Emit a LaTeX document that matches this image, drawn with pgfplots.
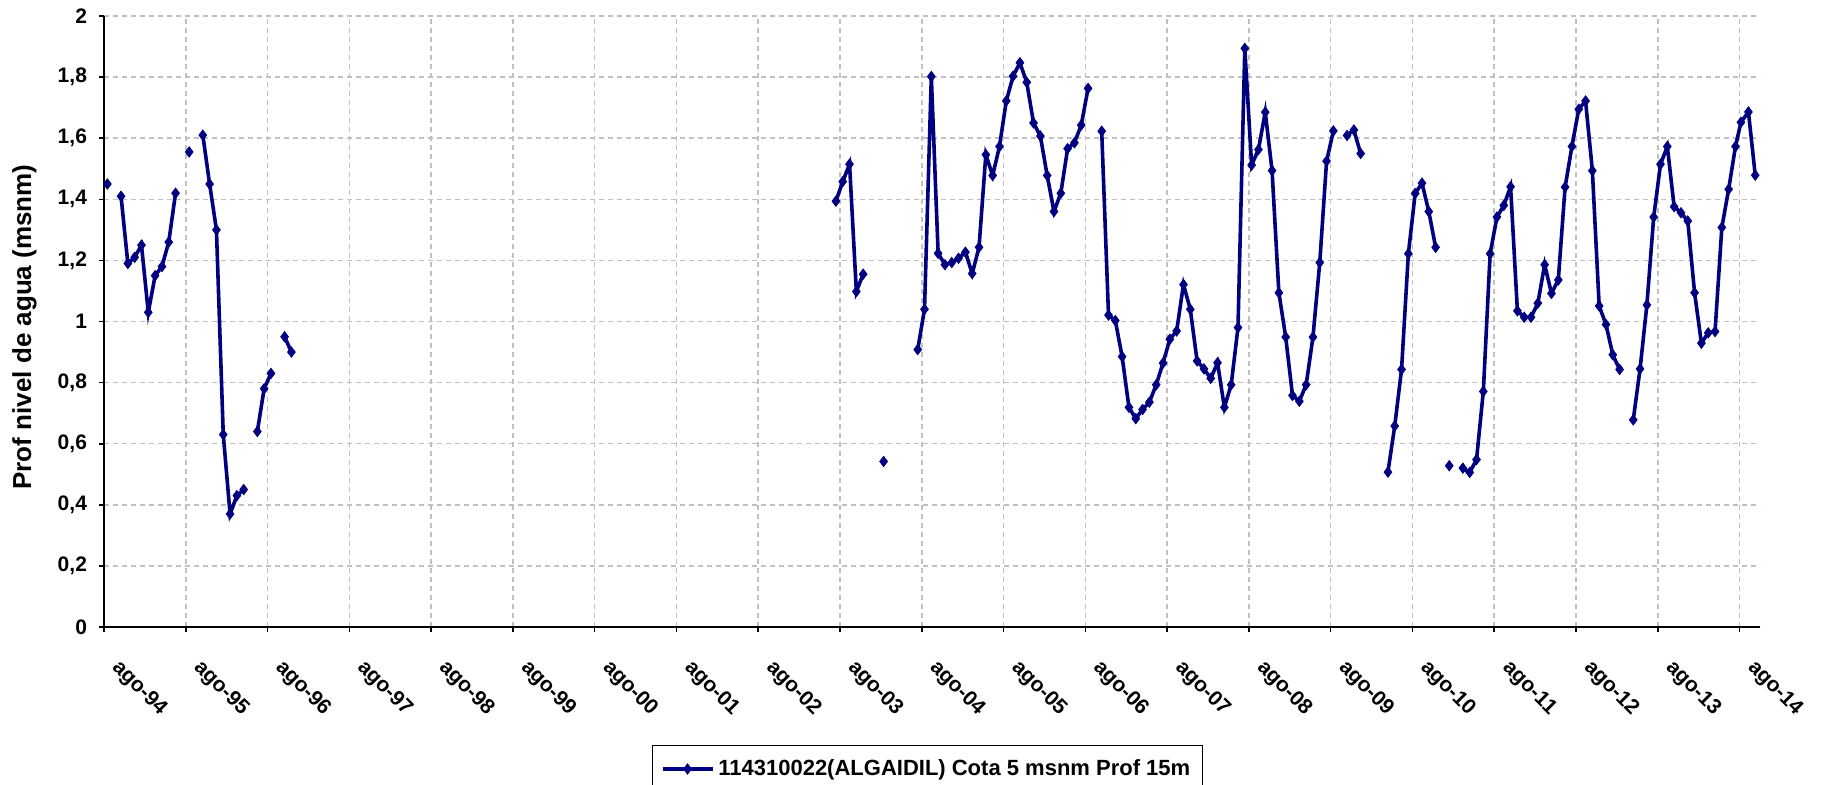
\documentclass[border=0pt]{standalone}
\usepackage{fontspec}
\setmainfont{Liberation Sans}
\usepackage{pgfplots}
\pgfplotsset{compat=1.18}
\definecolor{navy}{RGB}{0,0,128}
\definecolor{gridgray}{RGB}{192,192,192}
\begin{document}
\begin{tikzpicture}
\begin{axis}[
  scale only axis, width=828pt, height=305.5pt,
  xmin=0, xmax=243, ymin=0, ymax=2,
  axis x line*=bottom, axis y line*=left,
  axis line style={black, line width=0.8pt},
  xtick={0,12,24,36,48,60,72,84,96,108,120,132,144,156,168,180,192,204,216,228,240},
  xticklabels={ago-94,ago-95,ago-96,ago-97,ago-98,ago-99,ago-00,ago-01,ago-02,ago-03,ago-04,ago-05,ago-06,ago-07,ago-08,ago-09,ago-10,ago-11,ago-12,ago-13,ago-14},
  ytick={0,0.2,0.4,0.6,0.8,1,1.2,1.4,1.6,1.8,2},
  /pgf/number format/.cd, use comma, fixed, precision=1, assume math mode=true, /pgfplots/.cd,
  tick align=outside, major tick length=2.5pt,
  tick style={black, line width=0.8pt},
  grid=major,
  major grid style={gridgray, dash pattern=on 2.5pt off 2pt, line width=0.75pt},
  yticklabel style={font=\fontsize{10.5}{12}\selectfont\bfseries, xshift=-2.5pt},
  xticklabel style={font=\fontsize{10.5}{12}\selectfont\bfseries, xshift=9pt, yshift=-8pt, rotate=-45, anchor=north west},
  ylabel={Prof nivel de agua (msnm)},
  ylabel style={font=\fontsize{13}{15}\selectfont\bfseries, at={(axis description cs:-0.048,0.491)}, anchor=center},
  unbounded coords=jump,
  legend style={at={(0.4973,-0.193)}, anchor=north, draw=black, line width=0.6pt,
    font=\fontsize{11}{13}\selectfont\bfseries, inner xsep=4pt, inner ysep=5pt},
  legend cell align=left,
  legend image code/.code={\draw[mark repeat=2, mark phase=2, #1] plot coordinates {(0pt,0pt) (12.5pt,0pt) (25pt,0pt)};},
]
\addplot[navy, line width=1.8pt, mark=diamond*, mark size=2.5pt, mark options={solid, fill=navy, line width=0.5pt}] coordinates {
(0.5,1.45) (1.5,nan) (2.5,1.41) (3.5,1.19) (4.5,1.21) (5.5,1.25) (6.5,1.03) (7.5,1.15) (8.5,1.18) (9.5,1.26) (10.5,1.42) (11.5,nan)
(12.5,1.555) (13.5,nan) (14.5,1.61) (15.5,1.45) (16.5,1.30) (17.5,0.63) (18.5,0.37) (19.5,0.43) (20.5,0.45) (21.5,nan)
(22.5,0.64) (23.5,0.78) (24.5,0.83) (25.5,nan) (26.5,0.95) (27.5,0.90) (28.5,nan)
(107.4,1.394) (108.4,1.458) (109.4,1.515) (110.4,1.098) (111.4,1.155) (112.4,nan) (114.4,0.542) (115.4,nan)
(119.4,0.908) (120.4,1.040) (121.4,1.802) (122.4,1.223) (123.4,1.186) (124.4,1.193) (125.4,1.207) (126.4,1.227) (127.4,1.157) (128.4,1.243)
(129.4,1.546) (130.4,1.478) (131.4,1.573) (132.4,1.722) (133.4,1.803) (134.4,1.847) (135.4,1.783) (136.4,1.650) (137.4,1.607) (138.4,1.478)
(139.4,1.360) (140.4,1.420) (141.4,1.566) (142.4,1.585) (143.4,1.643) (144.4,1.763) (145.4,nan)
(146.4,1.623) (147.4,1.021) (148.4,1.003) (149.4,0.885) (150.4,0.719) (151.4,0.682) (152.4,0.712) (153.4,0.736) (154.4,0.793) (155.4,0.864)
(156.4,0.942) (157.4,0.969) (158.4,1.121) (159.4,1.040) (160.4,0.871) (161.4,0.845) (162.4,0.814) (163.4,0.865) (164.4,0.719) (165.4,0.793)
(166.4,0.980) (167.4,1.894) (168.4,1.512) (169.4,1.563) (170.4,1.685) (171.4,1.494) (172.4,1.094) (173.4,0.949) (174.4,0.758) (175.4,0.739)
(176.4,0.793) (177.4,0.949) (178.4,1.193) (179.4,1.525) (180.4,1.624) (181.4,nan)
(182.4,1.609) (183.4,1.627) (184.4,1.550) (185.4,nan)
(188.4,0.507) (189.4,0.658) (190.4,0.843) (191.4,1.222) (192.4,1.419) (193.4,1.453) (194.4,1.360) (195.4,1.243) (196.4,nan)
(197.4,0.528) (198.4,nan)
(199.4,0.520) (200.4,0.506) (201.4,0.548) (202.4,0.771) (203.4,1.222) (204.4,1.342) (205.4,1.380) (206.4,1.441) (207.4,1.035) (208.4,1.014)
(209.4,1.014) (210.4,1.060) (211.4,1.186) (212.4,1.092) (213.4,1.136) (214.4,1.440) (215.4,1.573) (216.4,1.695) (217.4,1.722) (218.4,1.494)
(219.4,1.051) (220.4,0.990) (221.4,0.891) (222.4,0.843) (223.4,nan)
(224.4,0.678) (225.4,0.845) (226.4,1.054) (227.4,1.342) (228.4,1.515) (229.4,1.573) (230.4,1.376) (231.4,1.356) (232.4,1.329) (233.4,1.094)
(234.4,0.929) (235.4,0.963) (236.4,0.967) (237.4,1.308) (238.4,1.433) (239.4,1.573) (240.2,1.652) (241.3,1.686) (242.3,1.479)
};
\addlegendentry{114310022(ALGAIDIL) Cota 5 msnm Prof 15m}
\end{axis}
\pgfresetboundingbox
\path (-52pt,-78.5pt) rectangle (864pt,313.5pt);
\end{tikzpicture}
\end{document}
